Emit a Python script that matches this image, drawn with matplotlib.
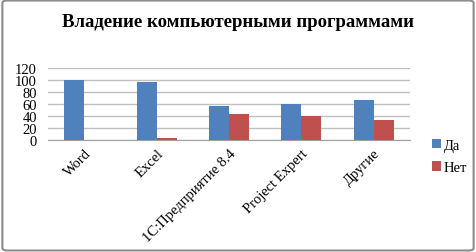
import numpy as np
import matplotlib.pyplot as plt
from matplotlib.patches import FancyBboxPatch

programs = ['Word', 'Excel', '1С:Предприятие 8.4', 'Project Expert', 'Другие']
yes_vals = [100, 97, 57, 60, 67]
no_vals = [0, 3, 43, 40, 33]

plt.rcParams['font.family'] = ['Liberation Serif', 'DejaVu Serif']

fig = plt.figure(figsize=(4.76, 2.53), dpi=100)
ax = fig.add_axes([0.101, 0.444, 0.76, 0.282])

x = np.arange(len(programs))
w = 0.276
ax.bar(x - w / 2, yes_vals, w, color='#4F81BD', label='Да', zorder=3)
ax.bar(x + w / 2, no_vals, w, color='#C0504D', label='Нет', zorder=3)

ax.set_xlim(-0.5, len(programs) - 0.5)
ax.set_ylim(0, 120)
ax.set_yticks(range(0, 121, 20))
ax.yaxis.grid(True, color='#BFBFBF', linewidth=1, zorder=0)
ax.set_xticks(x)
ax.set_xticklabels(programs, rotation=45, ha='right', rotation_mode='anchor', fontsize=10.5)
ax.tick_params(axis='y', length=0, labelsize=10.5, pad=8)
ax.tick_params(axis='x', length=0, pad=5)
for s in ['top', 'right', 'left']:
    ax.spines[s].set_visible(False)
ax.spines['bottom'].set_color('#A0A0A0')

fig.legend(loc='upper left', bbox_to_anchor=(0.88, 0.50), frameon=False,
           fontsize=10.5, handlelength=0.6, handleheight=0.6, handletextpad=0.2,
           labelspacing=0.65)

fig.text(0.5, 0.91, 'Владение компьютерными программами', ha='center', va='center',
         fontsize=13.5, fontweight='bold')

border = FancyBboxPatch((0.005, 0.006), 0.99, 0.988, boxstyle='round,pad=0,rounding_size=0.01',
                        transform=fig.transFigure, fill=False, edgecolor='#8C8C8C', linewidth=1.5)
fig.patches.append(border)

fig.savefig('out.png', dpi=100)
